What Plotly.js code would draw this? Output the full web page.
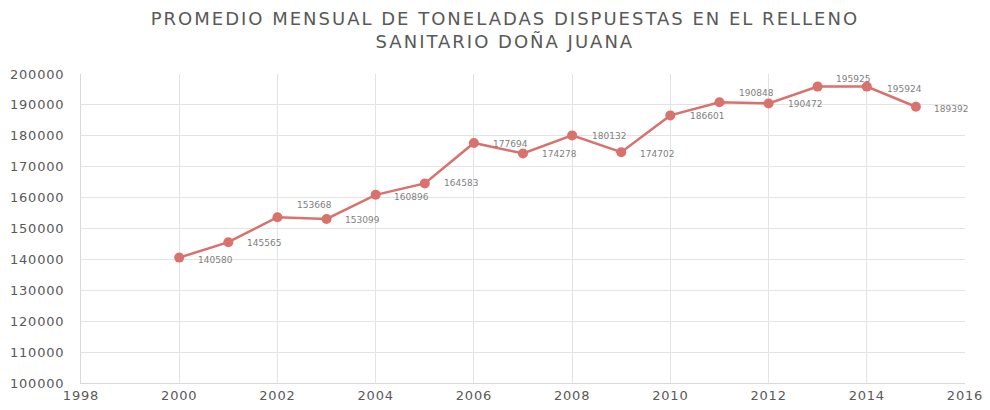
<!DOCTYPE html>
<html>
<head>
<meta charset="utf-8">
<script src="https://cdn.plot.ly/plotly-3.0.1.min.js"></script>
<style>
html,body{margin:0;padding:0;background:#fff;}
#chart{width:990px;height:410px;}
#chart .gtitle{letter-spacing:2px;}
#chart .ytick text,#chart .xtick text{letter-spacing:0.8px;}
</style>
</head>
<body>
<div id="chart"></div>
<script>
const years = [2000, 2001, 2002, 2003, 2004, 2005, 2006, 2007, 2008, 2009, 2010, 2011, 2012, 2013, 2014, 2015];
const tons = [140580, 145565, 153668, 153099, 160896, 164583, 177694, 174278, 180132, 174702, 186601, 190848, 190472, 195925, 195924, 189392];
const xTicks = [1998, 2000, 2002, 2004, 2006, 2008, 2010, 2012, 2014, 2016];
const yTicks = [100000, 110000, 120000, 130000, 140000, 150000, 160000, 170000, 180000, 190000, 200000];
// label placement offsets (pixels) for each data label
const labelDx = [36, 36, 37, 36, 36, 36, 37, 36, 37, 36, 37, 37, 36, 35, 38, 35];
const labelDy = [-2, -1, 12, -1, -2, 0, -1, -1, -1, -2, -1, 9, -1, 8, -2, -2];

const FONT = 'DejaVu Sans, Verdana, sans-serif';
const color = '#d9716d';
const trace = {
  x: years, y: tons, type: 'scatter', mode: 'lines+markers',
  line: {color: color, width: 2.5},
  marker: {color: color, size: 10},
  hoverinfo: 'x+y'
};
const annotations = years.map((yr, i) => ({
  x: yr, y: tons[i], xref: 'x', yref: 'y', text: String(tons[i]),
  showarrow: false, xshift: labelDx[i], yshift: labelDy[i],
  font: {family: FONT, size: 9, color: '#808080'}
}));
const layout = {
  width: 990, height: 410,
  margin: {l: 81, r: 25, t: 74, b: 27},
  paper_bgcolor: '#ffffff', plot_bgcolor: '#ffffff',
  title: {
    text: 'PROMEDIO MENSUAL DE TONELADAS DISPUESTAS EN EL RELLENO<br>SANITARIO DOÑA JUANA',
    x: 0.51, xanchor: 'center', yref: 'container', y: 0.94, yanchor: 'top',
    font: {family: FONT, size: 18, color: '#595959'}
  },
  xaxis: {
    range: [1998, 2016], tickvals: xTicks, ticktext: xTicks.map(String),
    showgrid: true, gridcolor: '#e3e3e3', gridwidth: 1,
    showline: true, linecolor: '#d9d9d9', zeroline: false, ticks: '',
    tickfont: {family: FONT, size: 13, color: '#595959'}
  },
  yaxis: {
    range: [100000, 200000], tickvals: yTicks, ticktext: yTicks.map(String),
    showgrid: true, gridcolor: '#e3e3e3', gridwidth: 1,
    showline: true, linecolor: '#d9d9d9', zeroline: false, ticks: '',
    ticklabelstandoff: 13,
    tickfont: {family: FONT, size: 13, color: '#595959'}
  },
  annotations: annotations,
  showlegend: false
};
Plotly.newPlot('chart', [trace], layout, {displayModeBar: false, staticPlot: true});
</script>
</body>
</html>
